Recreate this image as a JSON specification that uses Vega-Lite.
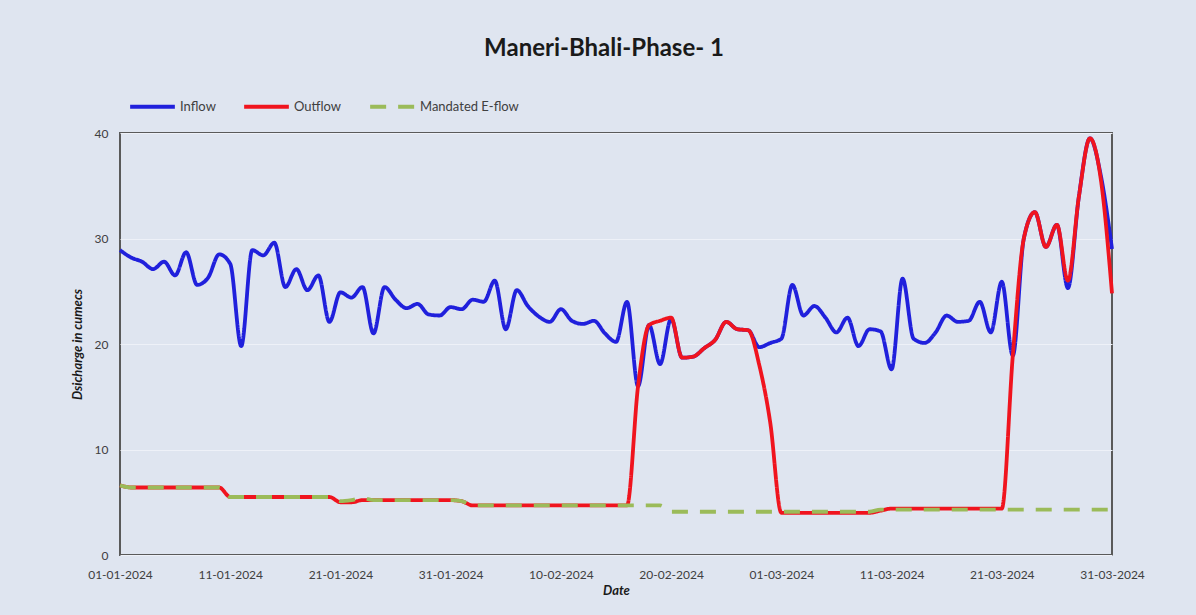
{
  "$schema": "https://vega.github.io/schema/vega-lite/v6.json",
  "width": 992,
  "height": 422,
  "autosize": {"type": "none"},
  "padding": {"left": 120, "top": 133, "right": 84, "bottom": 60},
  "background": "#dfe5f0",
  "title": {
    "text": "Maneri-Bhali-Phase- 1",
    "anchor": "middle",
    "font": "Lato",
    "fontSize": 24,
    "fontWeight": "bold",
    "color": "#1a1a1a",
    "offset": 21,
    "dx": -12
  },
  "config": {
    "view": {"stroke": "#5a5a5a", "strokeWidth": 2, "fill": "#dfe5f0"},
    "font": "Lato"
  },
  "data": {
    "format": {"parse": {"date": "date:'%Y-%m-%d'"}},
    "values": [
      {"date": "2024-01-01", "Inflow": 28.9, "Outflow": 6.6, "Mandated E-flow": 6.6},
      {"date": "2024-01-02", "Inflow": 28.2, "Outflow": 6.4, "Mandated E-flow": 6.4},
      {"date": "2024-01-03", "Inflow": 27.8, "Outflow": 6.4, "Mandated E-flow": 6.4},
      {"date": "2024-01-04", "Inflow": 27.1, "Outflow": 6.4, "Mandated E-flow": 6.4},
      {"date": "2024-01-05", "Inflow": 27.8, "Outflow": 6.4, "Mandated E-flow": 6.4},
      {"date": "2024-01-06", "Inflow": 26.5, "Outflow": 6.4, "Mandated E-flow": 6.4},
      {"date": "2024-01-07", "Inflow": 28.7, "Outflow": 6.4, "Mandated E-flow": 6.4},
      {"date": "2024-01-08", "Inflow": 25.6, "Outflow": 6.4, "Mandated E-flow": 6.4},
      {"date": "2024-01-09", "Inflow": 26.3, "Outflow": 6.4, "Mandated E-flow": 6.4},
      {"date": "2024-01-10", "Inflow": 28.5, "Outflow": 6.4, "Mandated E-flow": 6.4},
      {"date": "2024-01-11", "Inflow": 27.6, "Outflow": 5.5, "Mandated E-flow": 5.5},
      {"date": "2024-01-12", "Inflow": 19.8, "Outflow": 5.5, "Mandated E-flow": 5.5},
      {"date": "2024-01-13", "Inflow": 28.9, "Outflow": 5.5, "Mandated E-flow": 5.5},
      {"date": "2024-01-14", "Inflow": 28.4, "Outflow": 5.5, "Mandated E-flow": 5.5},
      {"date": "2024-01-15", "Inflow": 29.6, "Outflow": 5.5, "Mandated E-flow": 5.5},
      {"date": "2024-01-16", "Inflow": 25.4, "Outflow": 5.5, "Mandated E-flow": 5.5},
      {"date": "2024-01-17", "Inflow": 27.1, "Outflow": 5.5, "Mandated E-flow": 5.5},
      {"date": "2024-01-18", "Inflow": 25.1, "Outflow": 5.5, "Mandated E-flow": 5.5},
      {"date": "2024-01-19", "Inflow": 26.5, "Outflow": 5.5, "Mandated E-flow": 5.5},
      {"date": "2024-01-20", "Inflow": 22.1, "Outflow": 5.5, "Mandated E-flow": 5.5},
      {"date": "2024-01-21", "Inflow": 24.9, "Outflow": 5.0, "Mandated E-flow": 5.1},
      {"date": "2024-01-22", "Inflow": 24.4, "Outflow": 5.0, "Mandated E-flow": 5.2},
      {"date": "2024-01-23", "Inflow": 25.4, "Outflow": 5.2, "Mandated E-flow": 5.4},
      {"date": "2024-01-24", "Inflow": 21.0, "Outflow": 5.2, "Mandated E-flow": 5.2},
      {"date": "2024-01-25", "Inflow": 25.4, "Outflow": 5.2, "Mandated E-flow": 5.2},
      {"date": "2024-01-26", "Inflow": 24.2, "Outflow": 5.2, "Mandated E-flow": 5.2},
      {"date": "2024-01-27", "Inflow": 23.4, "Outflow": 5.2, "Mandated E-flow": 5.2},
      {"date": "2024-01-28", "Inflow": 23.8, "Outflow": 5.2, "Mandated E-flow": 5.2},
      {"date": "2024-01-29", "Inflow": 22.8, "Outflow": 5.2, "Mandated E-flow": 5.2},
      {"date": "2024-01-30", "Inflow": 22.7, "Outflow": 5.2, "Mandated E-flow": 5.2},
      {"date": "2024-01-31", "Inflow": 23.5, "Outflow": 5.2, "Mandated E-flow": 5.2},
      {"date": "2024-02-01", "Inflow": 23.3, "Outflow": 5.1, "Mandated E-flow": 5.1},
      {"date": "2024-02-02", "Inflow": 24.2, "Outflow": 4.7, "Mandated E-flow": 4.7},
      {"date": "2024-02-03", "Inflow": 24.0, "Outflow": 4.7, "Mandated E-flow": 4.7},
      {"date": "2024-02-04", "Inflow": 26.0, "Outflow": 4.7, "Mandated E-flow": 4.7},
      {"date": "2024-02-05", "Inflow": 21.4, "Outflow": 4.7, "Mandated E-flow": 4.7},
      {"date": "2024-02-06", "Inflow": 25.1, "Outflow": 4.7, "Mandated E-flow": 4.7},
      {"date": "2024-02-07", "Inflow": 23.6, "Outflow": 4.7, "Mandated E-flow": 4.7},
      {"date": "2024-02-08", "Inflow": 22.6, "Outflow": 4.7, "Mandated E-flow": 4.7},
      {"date": "2024-02-09", "Inflow": 22.1, "Outflow": 4.7, "Mandated E-flow": 4.7},
      {"date": "2024-02-10", "Inflow": 23.3, "Outflow": 4.7, "Mandated E-flow": 4.7},
      {"date": "2024-02-11", "Inflow": 22.2, "Outflow": 4.7, "Mandated E-flow": 4.7},
      {"date": "2024-02-12", "Inflow": 21.9, "Outflow": 4.7, "Mandated E-flow": 4.7},
      {"date": "2024-02-13", "Inflow": 22.2, "Outflow": 4.7, "Mandated E-flow": 4.7},
      {"date": "2024-02-14", "Inflow": 21.0, "Outflow": 4.7, "Mandated E-flow": 4.7},
      {"date": "2024-02-15", "Inflow": 20.2, "Outflow": 4.7, "Mandated E-flow": 4.7},
      {"date": "2024-02-16", "Inflow": 24.0, "Outflow": 4.7, "Mandated E-flow": 4.7},
      {"date": "2024-02-17", "Inflow": 16.0, "Outflow": 16.0, "Mandated E-flow": 4.7},
      {"date": "2024-02-18", "Inflow": 21.8, "Outflow": 21.8, "Mandated E-flow": 4.7},
      {"date": "2024-02-19", "Inflow": 18.1, "Outflow": 22.2, "Mandated E-flow": 4.7},
      {"date": "2024-02-20", "Inflow": 22.4, "Outflow": 22.5, "Mandated E-flow": 4.1},
      {"date": "2024-02-21", "Inflow": 18.7, "Outflow": 18.7, "Mandated E-flow": 4.1},
      {"date": "2024-02-22", "Inflow": 18.8, "Outflow": 18.8, "Mandated E-flow": 4.1},
      {"date": "2024-02-23", "Inflow": 19.6, "Outflow": 19.6, "Mandated E-flow": 4.1},
      {"date": "2024-02-24", "Inflow": 20.4, "Outflow": 20.4, "Mandated E-flow": 4.1},
      {"date": "2024-02-25", "Inflow": 22.1, "Outflow": 22.1, "Mandated E-flow": 4.1},
      {"date": "2024-02-26", "Inflow": 21.4, "Outflow": 21.4, "Mandated E-flow": 4.1},
      {"date": "2024-02-27", "Inflow": 21.3, "Outflow": 21.3, "Mandated E-flow": 4.1},
      {"date": "2024-02-28", "Inflow": 19.7, "Outflow": 18.0, "Mandated E-flow": 4.1},
      {"date": "2024-02-29", "Inflow": 20.1, "Outflow": 12.5, "Mandated E-flow": 4.1},
      {"date": "2024-03-01", "Inflow": 20.5, "Outflow": 4.0, "Mandated E-flow": 4.1},
      {"date": "2024-03-02", "Inflow": 25.6, "Outflow": 4.0, "Mandated E-flow": 4.1},
      {"date": "2024-03-03", "Inflow": 22.7, "Outflow": 4.0, "Mandated E-flow": 4.1},
      {"date": "2024-03-04", "Inflow": 23.6, "Outflow": 4.0, "Mandated E-flow": 4.1},
      {"date": "2024-03-05", "Inflow": 22.5, "Outflow": 4.0, "Mandated E-flow": 4.1},
      {"date": "2024-03-06", "Inflow": 21.1, "Outflow": 4.0, "Mandated E-flow": 4.1},
      {"date": "2024-03-07", "Inflow": 22.5, "Outflow": 4.0, "Mandated E-flow": 4.1},
      {"date": "2024-03-08", "Inflow": 19.8, "Outflow": 4.0, "Mandated E-flow": 4.1},
      {"date": "2024-03-09", "Inflow": 21.4, "Outflow": 4.0, "Mandated E-flow": 4.1},
      {"date": "2024-03-10", "Inflow": 21.2, "Outflow": 4.2, "Mandated E-flow": 4.3},
      {"date": "2024-03-11", "Inflow": 17.6, "Outflow": 4.4, "Mandated E-flow": 4.3},
      {"date": "2024-03-12", "Inflow": 26.2, "Outflow": 4.4, "Mandated E-flow": 4.3},
      {"date": "2024-03-13", "Inflow": 20.5, "Outflow": 4.4, "Mandated E-flow": 4.3},
      {"date": "2024-03-14", "Inflow": 20.1, "Outflow": 4.4, "Mandated E-flow": 4.3},
      {"date": "2024-03-15", "Inflow": 21.1, "Outflow": 4.4, "Mandated E-flow": 4.3},
      {"date": "2024-03-16", "Inflow": 22.7, "Outflow": 4.4, "Mandated E-flow": 4.3},
      {"date": "2024-03-17", "Inflow": 22.1, "Outflow": 4.4, "Mandated E-flow": 4.3},
      {"date": "2024-03-18", "Inflow": 22.2, "Outflow": 4.4, "Mandated E-flow": 4.3},
      {"date": "2024-03-19", "Inflow": 24.0, "Outflow": 4.4, "Mandated E-flow": 4.3},
      {"date": "2024-03-20", "Inflow": 21.1, "Outflow": 4.4, "Mandated E-flow": 4.3},
      {"date": "2024-03-21", "Inflow": 25.9, "Outflow": 4.4, "Mandated E-flow": 4.3},
      {"date": "2024-03-22", "Inflow": 18.9, "Outflow": 18.9, "Mandated E-flow": 4.3},
      {"date": "2024-03-23", "Inflow": 30.0, "Outflow": 30.0, "Mandated E-flow": 4.3},
      {"date": "2024-03-24", "Inflow": 32.5, "Outflow": 32.5, "Mandated E-flow": 4.3},
      {"date": "2024-03-25", "Inflow": 29.2, "Outflow": 29.2, "Mandated E-flow": 4.3},
      {"date": "2024-03-26", "Inflow": 31.3, "Outflow": 31.3, "Mandated E-flow": 4.3},
      {"date": "2024-03-27", "Inflow": 25.3, "Outflow": 26.0, "Mandated E-flow": 4.3},
      {"date": "2024-03-28", "Inflow": 34.0, "Outflow": 34.0, "Mandated E-flow": 4.3},
      {"date": "2024-03-29", "Inflow": 39.5, "Outflow": 39.5, "Mandated E-flow": 4.3},
      {"date": "2024-03-30", "Inflow": 35.9, "Outflow": 35.5, "Mandated E-flow": 4.3},
      {"date": "2024-03-31", "Inflow": 29.0, "Outflow": 24.8, "Mandated E-flow": 4.3}
    ]
  },
  "transform": [
    {"fold": ["Inflow", "Outflow", "Mandated E-flow"], "as": ["series", "value"]}
  ],
  "mark": {"type": "line", "interpolate": "monotone", "strokeWidth": 3.8, "strokeCap": "butt"},
  "encoding": {
    "x": {
      "field": "date",
      "type": "temporal",
      "scale": {"domain": [{"year": 2024, "month": 1, "date": 1}, {"year": 2024, "month": 3, "date": 31}], "nice": false},
      "axis": {
        "title": "Date",
        "titleFont": "Lato",
        "titleFontSize": 13,
        "titleFontWeight": "bold",
        "titleFontStyle": "italic",
        "titleColor": "#1a1a1a",
        "titlePadding": 4,
        "format": "%d-%m-%Y",
        "values": [
          {"year": 2024, "month": 1, "date": 1},
          {"year": 2024, "month": 1, "date": 11},
          {"year": 2024, "month": 1, "date": 21},
          {"year": 2024, "month": 1, "date": 31},
          {"year": 2024, "month": 2, "date": 10},
          {"year": 2024, "month": 2, "date": 20},
          {"year": 2024, "month": 3, "date": 1},
          {"year": 2024, "month": 3, "date": 11},
          {"year": 2024, "month": 3, "date": 21},
          {"year": 2024, "month": 3, "date": 31}
        ],
        "labelFont": "Lato",
        "labelFontSize": 12,
        "labelColor": "#404040",
        "labelFlush": false,
        "labelOverlap": false,
        "labelBound": false,
        "labelPadding": 14,
        "ticks": false,
        "domain": false,
        "grid": false
      }
    },
    "y": {
      "field": "value",
      "type": "quantitative",
      "scale": {"domain": [0, 40], "nice": false},
      "axis": {
        "title": "Dsicharge in cumecs",
        "titleFont": "Lato",
        "titleFontSize": 13,
        "titleFontWeight": "bold",
        "titleFontStyle": "italic",
        "titleColor": "#1a1a1a",
        "titlePadding": 10,
        "values": [0, 10, 20, 30, 40],
        "labelFont": "Lato",
        "labelFontSize": 12,
        "labelColor": "#404040",
        "labelPadding": 12,
        "ticks": false,
        "domain": false,
        "grid": true,
        "gridColor": "#eef1f8",
        "gridWidth": 1
      }
    },
    "color": {
      "field": "series",
      "type": "nominal",
      "sort": ["Inflow", "Outflow", "Mandated E-flow"],
      "scale": {"domain": ["Inflow", "Outflow", "Mandated E-flow"], "range": ["#2020dc", "#f0141e", "#9bbb59"]},
      "legend": {
        "title": null,
        "orient": "none",
        "direction": "horizontal",
        "legendX": 8,
        "legendY": -51,
        "padding": 0,
        "symbolType": "stroke",
        "symbolSize": 2000,
        "symbolStrokeWidth": 4,
        "labelFont": "Lato",
        "labelFontSize": 13,
        "labelColor": "#404040",
        "labelOffset": 3,
        "columnPadding": 20
      }
    },
    "strokeDash": {
      "field": "series",
      "type": "nominal",
      "sort": ["Inflow", "Outflow", "Mandated E-flow"],
      "scale": {"domain": ["Inflow", "Outflow", "Mandated E-flow"], "range": [[1, 0], [1, 0], [16, 12]]},
      "legend": {
        "title": null,
        "orient": "none",
        "direction": "horizontal",
        "legendX": 8,
        "legendY": -51,
        "padding": 0,
        "symbolType": "stroke",
        "symbolSize": 2000,
        "symbolStrokeWidth": 4,
        "labelFont": "Lato",
        "labelFontSize": 13,
        "labelColor": "#404040",
        "labelOffset": 3,
        "columnPadding": 20
      }
    }
  }
}
